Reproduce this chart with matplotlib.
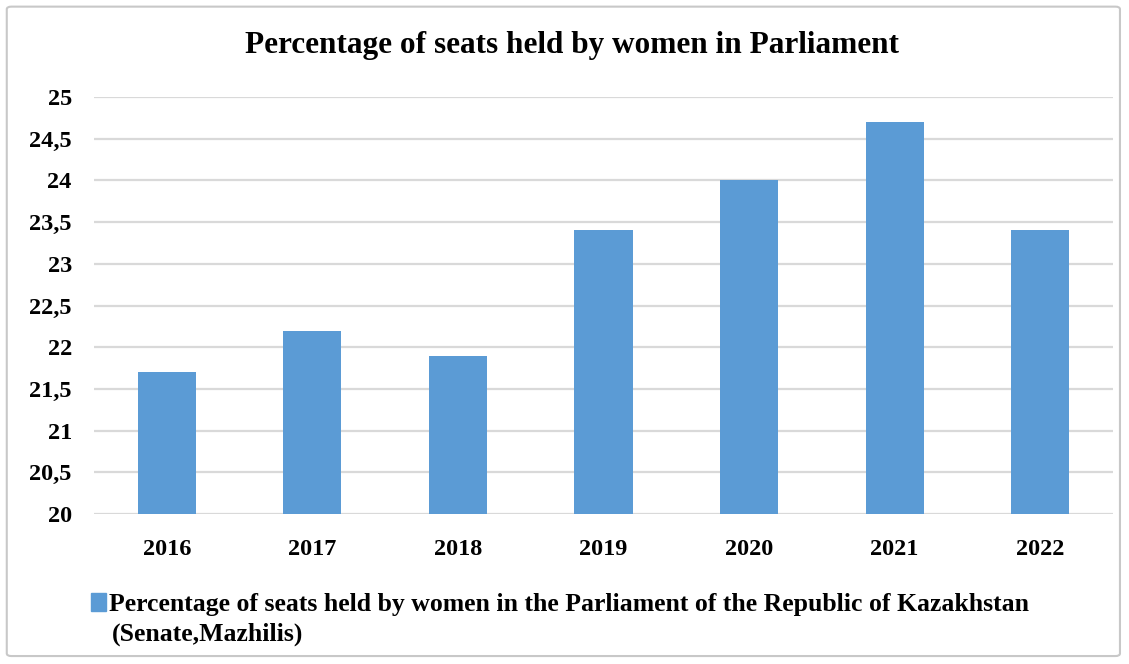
import matplotlib.pyplot as plt
from matplotlib.patches import FancyBboxPatch, Patch
from matplotlib.ticker import FuncFormatter
import numpy as np

plt.rcParams['font.family'] = ['Liberation Serif', 'DejaVu Serif']
plt.rcParams['font.weight'] = 'bold'

years = ['2016', '2017', '2018', '2019', '2020', '2021', '2022']
seats_pct = [21.7, 22.2, 21.9, 23.4, 24.0, 24.7, 23.4]
series_label = 'Percentage of seats held by women in the Parliament of the Republic of Kazakhstan'
series_note = '(Senate,Mazhilis)'
bar_color = '#5b9bd5'

fig = plt.figure(figsize=(11.29, 6.64), dpi=100)
ax = fig.add_axes([0.0833, 0.2259, 0.9025, 0.628])

# outer chart frame
fig.patches.append(FancyBboxPatch((0.006, 0.012), 0.986, 0.978,
                                  boxstyle='round,pad=0,rounding_size=0.004',
                                  transform=fig.transFigure, fill=False,
                                  edgecolor='#c8c8c8', linewidth=1.5))

x = np.arange(len(years))
ax.bar(x, np.array(seats_pct) - 20, bottom=20, width=0.4, color=bar_color, zorder=3)

ax.set_xlim(-0.5, len(years) - 0.5)
ax.set_ylim(20, 25)
ax.set_yticks(np.arange(20, 25.01, 0.5))
ax.yaxis.set_major_formatter(FuncFormatter(lambda v, p: f'{v:g}'.replace('.', ',')))
ax.set_xticks(x)
ax.set_xticklabels(years)
ax.tick_params(axis='both', length=0, labelsize=17.5)
ax.tick_params(axis='y', pad=16)
ax.tick_params(axis='x', pad=18)
ax.grid(axis='y', color='#d9d9d9', linewidth=1.6, zorder=0)
for s in ax.spines.values():
    s.set_visible(False)

fig.text(0.507, 0.931, 'Percentage of seats held by women in Parliament',
         ha='center', va='center', fontsize=22.5, fontweight='bold')

leg = fig.legend(handles=[Patch(color=bar_color, label=series_label)],
                 loc='center left', bbox_to_anchor=(0.081, 0.089),
                 frameon=False, fontsize=18.5, handlelength=0.55, handleheight=0.7,
                 handletextpad=0.15, borderaxespad=0, borderpad=0)
fig.text(0.099, 0.045, series_note, ha='left', va='center', fontsize=18.5, fontweight='bold')

fig.savefig('out.png', dpi=100)
